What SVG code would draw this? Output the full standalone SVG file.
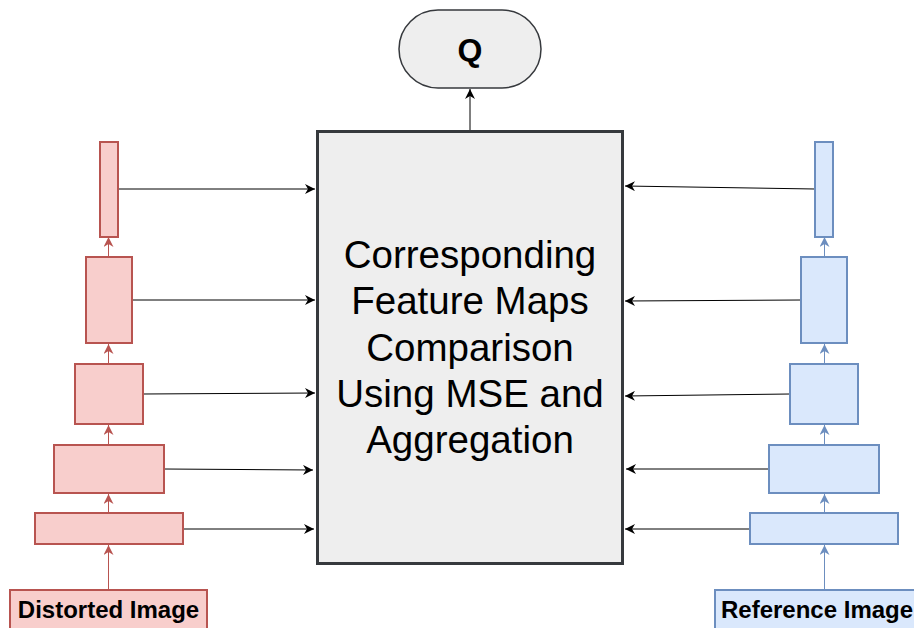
<svg xmlns="http://www.w3.org/2000/svg" width="914" height="628" viewBox="0 0 914 628">
<defs>
<style>
.red{fill:#f8cecc;stroke:#b85450;stroke-width:2}
.blue{fill:#dae8fc;stroke:#6c8ebf;stroke-width:2}
.gray{fill:#eeeeee;stroke:#36393d}
.blk{stroke:#000;stroke-width:1;fill:none}
.redl{stroke:#b85450;stroke-width:1;fill:none}
.bluel{stroke:#6c8ebf;stroke-width:1;fill:none}
.lbl{font-family:"Liberation Sans",Arial,sans-serif;font-weight:bold;fill:#000}
.mid{font-family:"Liberation Sans",Arial,sans-serif;font-size:38.5px;fill:#000;text-anchor:middle}
</style>
<marker id="ab" viewBox="0 0 10 10" refX="10" refY="5" markerWidth="10" markerHeight="10" markerUnits="userSpaceOnUse" orient="auto">
<path d="M0,0 L10,5 L0,10 L3,5 Z" fill="#000"/>
</marker>
<marker id="ar" viewBox="0 0 10 10" refX="10" refY="5" markerWidth="10" markerHeight="10" markerUnits="userSpaceOnUse" orient="auto">
<path d="M0,0 L10,5 L0,10 L3,5 Z" fill="#b85450"/>
</marker>
<marker id="abl" viewBox="0 0 10 10" refX="10" refY="5" markerWidth="10" markerHeight="10" markerUnits="userSpaceOnUse" orient="auto">
<path d="M0,0 L10,5 L0,10 L3,5 Z" fill="#6c8ebf"/>
</marker>
</defs>
<rect width="914" height="628" fill="#fff"/>

<g id="connectors">
<line class="blk" x1="470" y1="131" x2="470" y2="89" marker-end="url(#ab)"/>
<line class="blk" x1="118" y1="189" x2="315" y2="189" marker-end="url(#ab)"/>
<line class="blk" x1="132" y1="300" x2="315" y2="300" marker-end="url(#ab)"/>
<line class="blk" x1="143" y1="394" x2="315" y2="393" marker-end="url(#ab)"/>
<line class="blk" x1="164" y1="469" x2="313" y2="470" marker-end="url(#ab)"/>
<line class="blk" x1="183" y1="529" x2="314" y2="529" marker-end="url(#ab)"/>
<line class="blk" x1="815" y1="189" x2="625" y2="186" marker-end="url(#ab)"/>
<line class="blk" x1="801" y1="300" x2="625" y2="301" marker-end="url(#ab)"/>
<line class="blk" x1="790" y1="394" x2="625" y2="396" marker-end="url(#ab)"/>
<line class="blk" x1="769" y1="469" x2="626" y2="469" marker-end="url(#ab)"/>
<line class="blk" x1="750" y1="529" x2="625" y2="529" marker-end="url(#ab)"/>
<line class="redl" x1="108.5" y1="590" x2="108.5" y2="545" marker-end="url(#ar)"/>
<line class="redl" x1="108.5" y1="513" x2="108.5" y2="494" marker-end="url(#ar)"/>
<line class="redl" x1="108.5" y1="445" x2="108.5" y2="425" marker-end="url(#ar)"/>
<line class="redl" x1="108.5" y1="364" x2="108.5" y2="344" marker-end="url(#ar)"/>
<line class="redl" x1="108.5" y1="257" x2="108.5" y2="237" marker-end="url(#ar)"/>
<line class="bluel" x1="824.5" y1="590" x2="824.5" y2="545" marker-end="url(#abl)"/>
<line class="bluel" x1="824.5" y1="513" x2="824.5" y2="494" marker-end="url(#abl)"/>
<line class="bluel" x1="824.5" y1="445" x2="824.5" y2="425" marker-end="url(#abl)"/>
<line class="bluel" x1="824.5" y1="364" x2="824.5" y2="344" marker-end="url(#abl)"/>
<line class="bluel" x1="824.5" y1="257" x2="824.5" y2="237" marker-end="url(#abl)"/>
</g>

<g id="q">
<rect class="gray" x="399" y="10" width="142" height="78" rx="39" ry="39" stroke-width="1.5"/>
<text class="lbl" x="470" y="61" font-size="32" text-anchor="middle">Q</text>
</g>

<g id="center">
<rect class="gray" x="317.5" y="131.5" width="305" height="432" stroke-width="3"/>
<text class="mid" x="470" y="268">Corresponding</text>
<text class="mid" x="470" y="314">Feature Maps</text>
<text class="mid" x="470" y="361">Comparison</text>
<text class="mid" x="470" y="407">Using MSE and</text>
<text class="mid" x="470" y="453">Aggregation</text>
</g>

<g id="d1"><rect class="red" x="100" y="142" width="18" height="95"/></g>
<g id="d2"><rect class="red" x="86" y="257" width="46" height="86"/></g>
<g id="d3"><rect class="red" x="75" y="364" width="68" height="60"/></g>
<g id="d4"><rect class="red" x="54" y="445" width="110" height="48"/></g>
<g id="d5"><rect class="red" x="35" y="513" width="148" height="31"/></g>
<g id="distorted">
<rect class="red" x="10" y="590" width="197" height="50"/>
<text class="lbl" x="108.5" y="618" font-size="24" text-anchor="middle">Distorted Image</text>
</g>

<g id="r1"><rect class="blue" x="815" y="142" width="18" height="95"/></g>
<g id="r2"><rect class="blue" x="801" y="257" width="46" height="86"/></g>
<g id="r3"><rect class="blue" x="790" y="364" width="68" height="60"/></g>
<g id="r4"><rect class="blue" x="769" y="445" width="110" height="48"/></g>
<g id="r5"><rect class="blue" x="750" y="513" width="148" height="31"/></g>
<g id="reference">
<rect class="blue" x="715" y="590" width="220" height="50"/>
<text class="lbl" x="721" y="618" font-size="24">Reference Image</text>
</g>
</svg>
